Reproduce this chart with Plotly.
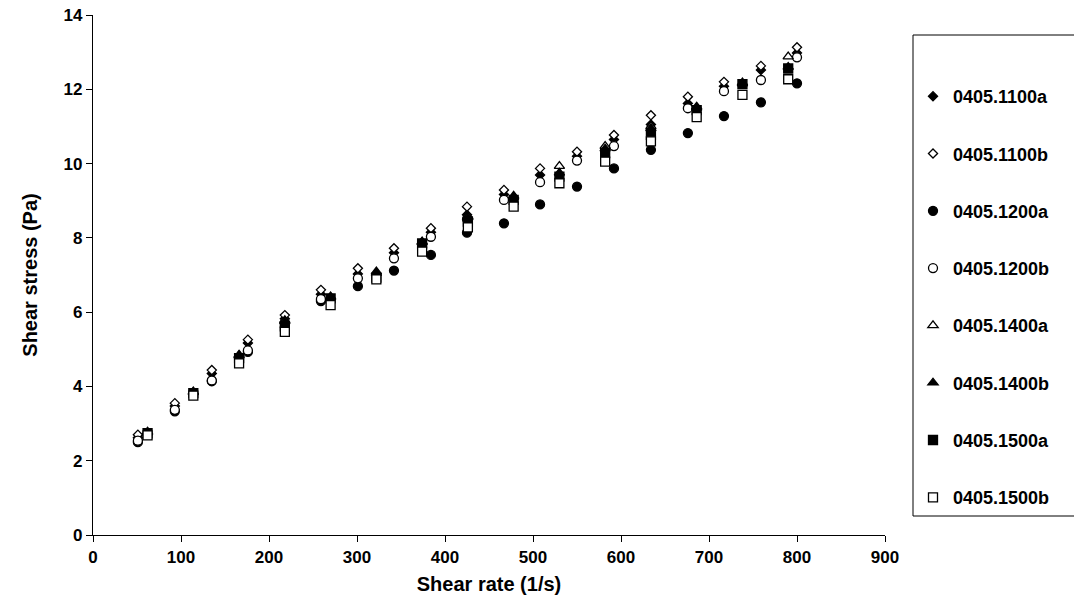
import plotly.graph_objects as go

# Shear rates (1/s)
rate_1100_1200 = [51, 93, 135, 176, 218, 259, 301, 342, 384, 425, 467, 508, 550, 592, 634, 676, 717, 759, 800]
rate_1400_1500 = [62, 114, 166, 218, 270, 322, 374, 426, 478, 530, 582, 634, 686, 738, 790]

# Shear stress (Pa)
s_1100a = [2.62, 3.47, 4.35, 5.17, 5.82, 6.48, 7.03, 7.60, 8.15, 8.62, 9.17, 9.69, 10.20, 10.65, 11.05, 11.62, 12.08, 12.52, 12.98]
s_1100b = [2.70, 3.55, 4.44, 5.26, 5.92, 6.60, 7.18, 7.72, 8.26, 8.84, 9.29, 9.87, 10.32, 10.77, 11.30, 11.80, 12.20, 12.63, 13.13]
s_1200a = [2.50, 3.33, 4.14, 4.93, 5.60, 6.30, 6.70, 7.12, 7.54, 8.14, 8.39, 8.90, 9.38, 9.87, 10.37, 10.82, 11.28, 11.65, 12.16]
s_1200b = [2.54, 3.37, 4.16, 4.97, 5.72, 6.35, 6.91, 7.45, 8.03, 8.50, 9.02, 9.50, 10.08, 10.47, 10.92, 11.49, 11.95, 12.25, 12.86]
s_1400a = [2.76, 3.84, 4.83, 5.78, 6.40, 7.05, 7.88, 8.58, 9.10, 9.93, 10.47, 11.00, 11.50, 12.18, 12.88]
s_1400b = [2.78, 3.86, 4.85, 5.75, 6.42, 7.09, 7.90, 8.55, 9.13, 9.75, 10.40, 10.95, 11.53, 12.15, 12.60]
s_1500a = [2.74, 3.82, 4.76, 5.62, 6.37, 6.93, 7.85, 8.44, 9.02, 9.65, 10.28, 10.77, 11.44, 12.14, 12.56]
s_1500b = [2.68, 3.75, 4.62, 5.47, 6.19, 6.88, 7.63, 8.28, 8.84, 9.47, 10.05, 10.60, 11.25, 11.85, 12.27]

series_names = ["0405.1100a", "0405.1100b", "0405.1200a", "0405.1200b",
                "0405.1400a", "0405.1400b", "0405.1500a", "0405.1500b"]

FONT = "Liberation Sans, Arial, Helvetica, sans-serif"

series = [
    (series_names[0], rate_1100_1200, s_1100a, "diamond", "black", 7),
    (series_names[1], rate_1100_1200, s_1100b, "diamond", "white", 7),
    (series_names[2], rate_1100_1200, s_1200a, "circle", "black", 9),
    (series_names[3], rate_1100_1200, s_1200b, "circle", "white", 9),
    (series_names[4], rate_1400_1500, s_1400a, "triangle-up", "white", 9),
    (series_names[5], rate_1400_1500, s_1400b, "triangle-up", "black", 9),
    (series_names[6], rate_1400_1500, s_1500a, "square", "black", 9),
    (series_names[7], rate_1400_1500, s_1500b, "square", "white", 9),
]

fig = go.Figure()
for i, (name, x, y, sym, fill, size) in enumerate(series):
    fig.add_trace(go.Scatter(
        x=x, y=y, mode="markers", name=name, legendgroup=f"g{i}",
        marker=dict(symbol=sym, size=size, color=fill,
                    line=dict(color="black", width=1.3)),
    ))

W, H = 1074, 603
L, T = 93, 15
R = W - 885
B = H - 535
pw, ph = W - L - R, H - T - B

def px_to_paper_x(px):
    return (px - L) / pw

def px_to_paper_y(py):
    return (H - B - py) / ph

fig.update_layout(
    width=W, height=H,
    margin=dict(l=L, r=R, t=T, b=B, autoexpand=False),
    paper_bgcolor="white", plot_bgcolor="white",
    font=dict(family=FONT, color="black", size=17, weight="bold"),
    showlegend=True,
    legend=dict(
        x=px_to_paper_x(913), xanchor="left",
        y=px_to_paper_y(78), yanchor="top",
        bgcolor="rgba(0,0,0,0)", borderwidth=0,
        font=dict(family=FONT, size=18, color="black", weight="bold"),
        tracegroupgap=30.9, itemsizing="trace",
    ),
    xaxis=dict(
        range=[0, 900], dtick=100, tick0=0,
        showline=True, linecolor="black", linewidth=1.2,
        ticks="outside", ticklen=6, tickcolor="black", tickwidth=1.2,
        showgrid=False, zeroline=False,
        tickfont=dict(family=FONT, size=17, weight="bold"),
        title=dict(text="Shear rate (1/s)", standoff=11,
                   font=dict(family=FONT, size=20, weight="bold")),
    ),
    yaxis=dict(
        range=[0, 14], dtick=2, tick0=0,
        showline=True, linecolor="black", linewidth=1.2,
        ticks="outside", ticklen=6, tickcolor="black", tickwidth=1.2,
        showgrid=False, zeroline=False, ticklabeloverflow="allow",
        tickfont=dict(family=FONT, size=17, weight="bold"),
        title=dict(text="Shear stress (Pa)", standoff=20,
                   font=dict(family=FONT, size=20, weight="bold")),
    ),
    shapes=[dict(
        type="rect", xref="paper", yref="paper",
        x0=px_to_paper_x(913), x1=px_to_paper_x(1090),
        y0=px_to_paper_y(516), y1=px_to_paper_y(35),
        line=dict(color="black", width=1), fillcolor="rgba(0,0,0,0)",
        layer="below",
    )],
)

# remove the browser's default 8px body margin so the figure fills the window exactly
fig.write_html(
    "out.html",
    config={"displayModeBar": False},
    post_script="document.body.style.margin='0px';document.body.style.overflow='hidden';",
)
